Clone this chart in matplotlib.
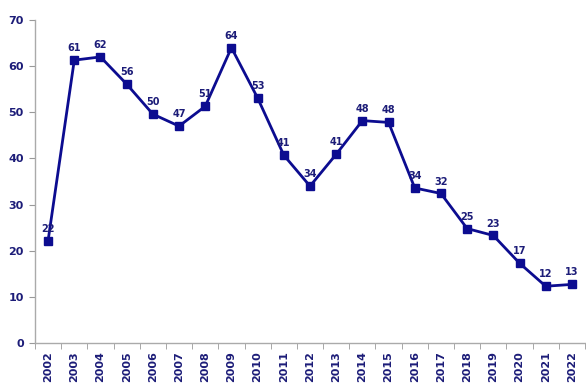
import matplotlib.pyplot as plt
import numpy as np

years = [str(y) for y in range(2002, 2023)]
values = [22.2, 61.3, 62.0, 56.1, 49.6, 47.0, 51.3, 64.0, 53.1, 40.7, 34.0,
          40.9, 48.2, 47.8, 33.6, 32.4, 24.8, 23.3, 17.3, 12.3, 12.7]
labels = [str(int(round(v))) for v in values]

line_c = "#0c0c90"
text_c = "#1c1c78"

fig = plt.figure(figsize=(5.86, 3.91), dpi=100)
ax = fig.add_axes([35 / 586, 1 - 343 / 391, 550 / 586, 323 / 391])

x = np.arange(len(years))
ax.plot(x, values, color=line_c, linewidth=2, marker="s", markersize=5.5,
        markerfacecolor=line_c, markeredgecolor=line_c)
for xi, v, lab in zip(x, values, labels):
    ax.annotate(lab, (xi, v), xytext=(0, 5), textcoords="offset points",
                ha="center", va="bottom", fontsize=7, fontweight="bold",
                color=text_c)

ax.set_xlim(-0.5, len(years) - 0.5)
ax.set_ylim(0, 70)
ax.set_yticks(range(0, 71, 10))
ax.set_yticklabels([str(t) for t in range(0, 71, 10)], fontsize=8,
                   fontweight="bold", color=text_c)
ax.set_xticks(x)
ax.set_xticklabels(years, rotation=90, fontsize=8, fontweight="bold",
                   color=text_c)
ax.set_xticks(np.arange(-0.5, len(years)), minor=True)
ax.tick_params(axis="x", which="major", length=0, pad=6)
ax.tick_params(axis="x", which="minor", length=4, color="#999999")
ax.tick_params(axis="y", length=4, color="#999999", pad=4)

for s in ["top", "right"]:
    ax.spines[s].set_visible(False)
for s in ["left", "bottom"]:
    ax.spines[s].set_color("#aaaaaa")
    ax.spines[s].set_linewidth(1)

fig.savefig("out.png", dpi=100)
plt.close(fig)
